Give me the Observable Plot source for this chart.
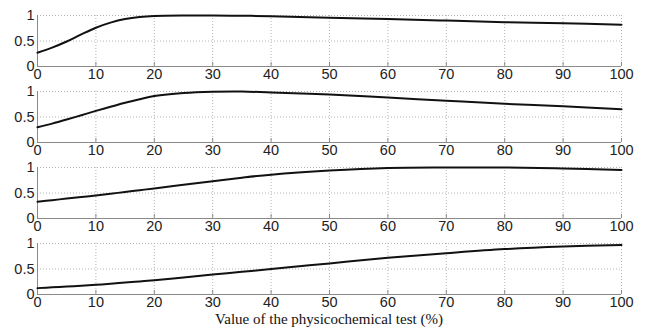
<!DOCTYPE html>
<html>
<head>
<meta charset="utf-8">
<script src="https://cdn.jsdelivr.net/npm/d3@7"></script>
<script src="https://cdn.jsdelivr.net/npm/@observablehq/plot@0.6"></script>
<style>
  html, body { margin: 0; padding: 0; background: #fff; }
  #chart svg { display: block; }
  #title { width: 584px; margin-left: 37px; text-align: center; font-family: "Liberation Serif", "Times New Roman", serif; font-size: 15px; color: #111; line-height: 22px; }
</style>
</head>
<body>
<div id="chart"></div>
<div id="title">Value of the physicochemical test (%)</div>
<script>
const panels = ["A", "B", "C", "D"];
const xs = [0, 2.5, 5, 7.5, 10, 12.5, 15, 17.5, 20, 25, 30, 35, 40, 50, 60, 70, 80, 90, 100];
const series1 = [0.27, 0.37, 0.49, 0.63, 0.76, 0.86, 0.93, 0.97, 0.99, 1.0, 1.0, 0.995, 0.987, 0.955, 0.93, 0.90, 0.87, 0.85, 0.82];
const series2 = [0.30, 0.37, 0.45, 0.535, 0.62, 0.70, 0.78, 0.85, 0.91, 0.97, 0.995, 1.0, 0.98, 0.94, 0.88, 0.82, 0.76, 0.71, 0.65];
const series3 = [0.33, 0.36, 0.39, 0.42, 0.45, 0.485, 0.52, 0.555, 0.59, 0.66, 0.73, 0.80, 0.86, 0.94, 0.99, 1.0, 1.0, 0.98, 0.95];
const series4 = [0.125, 0.14, 0.155, 0.17, 0.19, 0.21, 0.235, 0.257, 0.28, 0.335, 0.39, 0.445, 0.50, 0.61, 0.72, 0.81, 0.89, 0.94, 0.97];
const xTicks = [0, 10, 20, 30, 40, 50, 60, 70, 80, 90, 100];
const yTicks = [0, 0.5, 1];
const yTickLabels = ["0", "0.5", "1"];

const allSeries = [series1, series2, series3, series4];
const data = [];
allSeries.forEach((s, i) => s.forEach((v, j) => data.push({panel: panels[i], x: xs[j], y: v})));

const chart = Plot.plot({
  width: 645,
  height: 308,
  marginLeft: 37,
  marginRight: 24,
  marginTop: 15,
  marginBottom: 14,
  x: {domain: [0, 100], axis: null},
  y: {domain: [0, 1], axis: null},
  fy: {domain: panels, axis: null, paddingInner: 0.33, paddingOuter: 0},
  style: {fontFamily: "'Liberation Sans', Arial, sans-serif", fontSize: "14.5px", color: "#222", background: "#fff", overflow: "visible"},
  marks: [
    Plot.ruleX(xTicks, {x: d => d, stroke: "#b5b5b5", strokeDasharray: "1,2"}),
    Plot.ruleY(yTicks, {y: d => d, stroke: "#b5b5b5", strokeDasharray: "1,2"}),
    Plot.ruleX([0], {x: d => d, stroke: "#8a8a8a"}),
    Plot.ruleY([0], {y: d => d, stroke: "#8a8a8a"}),
    Plot.tickX(xTicks, {x: d => d, insetTop: 47, stroke: "#8a8a8a"}),
    Plot.line(data, {x: "x", y: "y", fy: "panel", curve: "catmull-rom", stroke: "#111", strokeWidth: 2}),
    Plot.text(xTicks, {x: d => d, frameAnchor: "bottom", dy: 12, text: d => String(d), fill: "#222"}),
    Plot.text(yTicks, {y: d => d, frameAnchor: "left", dx: -3, textAnchor: "end", text: (d, i) => yTickLabels[i], fill: "#222"})
  ]
});
document.getElementById("chart").appendChild(chart);
</script>
</body>
</html>
